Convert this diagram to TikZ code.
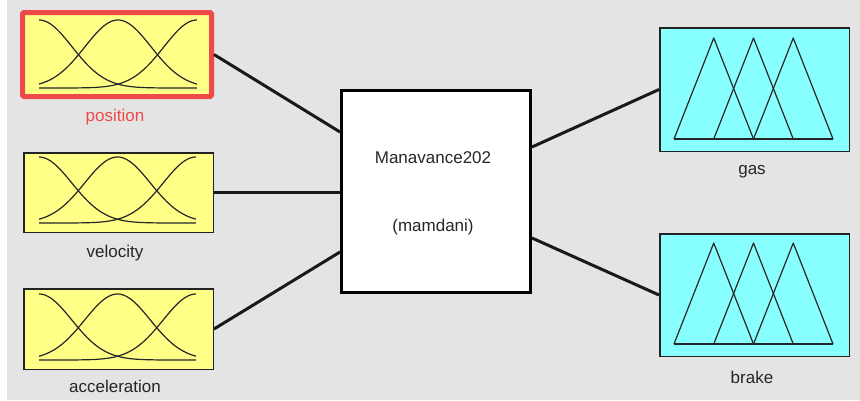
\documentclass[tikz,border=0pt]{standalone}
\usepackage{fontspec}
\setmainfont{Liberation Sans}
\definecolor{bg}{HTML}{E4E4E4}
\definecolor{mfyellow}{HTML}{FFFF88}
\definecolor{mfcyan}{HTML}{88FFFF}
\definecolor{selred}{HTML}{EE4A4A}
\definecolor{boxline}{HTML}{222222}
\tikzset{
  inbox/.style={draw=boxline, line width=1.5pt, fill=mfyellow, minimum width=189.5pt, inner sep=0pt},
  outbox/.style={draw=boxline, line width=1.5pt, fill=mfcyan, minimum width=189.5pt, inner sep=0pt},
  sel/.style={draw=selred, line width=5pt, rounded corners=1.5pt},
  rulebox/.style={draw=black, line width=3pt, fill=white, minimum width=189pt, minimum height=202pt, inner sep=0pt},
  lbl/.style={font=\fontsize{17}{20}\selectfont, text=black!85, inner sep=0pt},
  conn/.style={draw=black!90, line width=3pt},
  mfline/.style={draw=black!85, line width=1.2pt, line join=round}
}
\newcommand\gaussicon[4]{%
  \foreach \c in {0,0.5,1}{%
    \draw[mfline] plot[domain=0:1, samples=80, smooth] ({#1+(#2-#1)*\x}, {#4-(#4-#3)*exp(-0.5*((\x-\c)/0.209)^2)});
  }%
}
\newcommand\triicon[4]{%
  \pgfmathsetmacro\dq{(#2-#1)/4}%
  \draw[mfline] (#1,#4) -- (#2,#4);
  \foreach \k in {0,1,2}{%
    \draw[mfline] ({#1+\k*\dq},#4) -- ({#1+(\k+1)*\dq},#3) -- ({#1+(\k+2)*\dq},#4);
  }%
}
\begin{document}
\begin{tikzpicture}[x=1pt, y=-1pt]
\useasboundingbox (0,0) rectangle (860,400);
\fill[white] (0,0) rectangle (860,400);
\fill[bg] (7,0) rectangle (860,400);

% input boxes
\node[inbox, sel, minimum width=189pt, minimum height=84pt] (pos) at (117,54.5) {};
\node[inbox, minimum height=79.5pt] (vel) at (118.5,192.5) {};
\node[inbox, minimum height=80.5pt] (acc) at (118.5,329) {};
\gaussicon{39}{197}{20}{88}
\gaussicon{39}{196}{157}{223}
\gaussicon{39}{196}{294}{360}

% rule box
\node[rulebox] (mam) at (436,191.5) {};
\node[lbl] (mamname) at (433,158) {Manavance202};
\node[lbl] (mamtype) at (433,227) {(mamdani)};

% output boxes
\node[outbox, minimum height=123.5pt] (gas) at (754.5,89.5) {};
\node[outbox, minimum height=122.5pt] (brk) at (754.5,295) {};
\triicon{674}{833}{38}{139}
\triicon{674}{833}{243}{344}

% labels
\node[lbl, text=selred] (posl) at (115,117) {position};
\node[lbl] (vell) at (115,253) {velocity};
\node[lbl] (accl) at (115,386) {acceleration};
\node[lbl] (gasl) at (752,172) {gas};
\node[lbl] (brkl) at (752,377) {brake};

% ports
\coordinate (mi1) at ([yshift=59.5pt]mam.west);
\coordinate (mi3) at ([yshift=-60.5pt]mam.west);
\coordinate (mo1) at ([yshift=44.5pt]mam.east);
\coordinate (mo2) at ([yshift=-46.5pt]mam.east);

% connectors
\draw[conn] (pos.east) -- (mi1);
\draw[conn] (vel.east) -- (vel.east -| mam.west);
\draw[conn] (acc.east) -- (mi3);
\draw[conn] (mo1) -- (gas.west);
\draw[conn] (mo2) -- (brk.west);
\end{tikzpicture}
\end{document}
